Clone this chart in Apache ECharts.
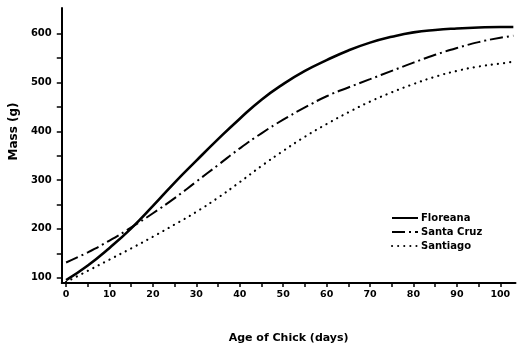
<!DOCTYPE html>
<html>
<head>
<meta charset="utf-8">
<script src="https://cdn.jsdelivr.net/npm/echarts@6/dist/echarts.min.js"></script>
<style>html,body{margin:0;padding:0;background:#fff}#c{width:520px;height:349px}</style>
</head>
<body>
<div id="c"></div>
<script>
const days = [0,5,10,15,20,25,30,35,40,45,50,55,60,65,70,75,80,85,90,95,100,103];
const floreana = [95,125,161,201,247,295,340,384,426,465,497,524,546,566,582,594,603,608,611,613,614,614];
const santaCruz = [131,152,176,203,232,263,297,331,365,396,424,449,472,490,507,524,541,557,571,583,592,596];
const santiago = [91,114,137,160,184,209,235,264,296,329,360,389,415,439,461,480,497,512,524,533,539,543];
const xTicks = [0,5,10,15,20,25,30,35,40,45,50,55,60,65,70,75,80,85,90,95,100];
const xLabels = [0,10,20,30,40,50,60,70,80,90,100];
const yTicks = [100,150,200,250,300,350,400,450,500,550,600];
const yLabels = [100,200,300,400,500,600];
const seriesNames = ['Floreana','Santa Cruz','Santiago'];

const pairs = (ys) => days.map((d,i)=>[d, ys[i]]);
const font = 'DejaVu Sans';
const chart = echarts.init(document.getElementById('c'), null, {renderer:'canvas'});
chart.setOption({
  animation:false,
  backgroundColor:'#fff',
  grid:{left:60, right:4.5, top:8, bottom:57, containLabel:false},
  legend:{
    orient:'vertical', left:386, top:208, itemWidth:26, itemHeight:10, itemGap:4,
    itemStyle:{opacity:0},
    textStyle:{fontFamily:font, fontWeight:'bold', fontSize:10, color:'#000', padding:[0,0,0,-2]},
    data:seriesNames
  },
  xAxis:{
    type:'value', min:-1, max:103.5,
    name:'Age of Chick (days)', nameLocation:'middle', nameGap:50,
    nameTextStyle:{fontFamily:font, fontWeight:'bold', fontSize:11, color:'#000'},
    axisLine:{show:true, onZero:false, lineStyle:{color:'#000', width:2}},
    axisTick:{show:true, length:4, lineStyle:{color:'#000', width:1.5}, customValues:xTicks},
    axisLabel:{fontFamily:font, fontWeight:'bold', fontSize:9.5, color:'#000', margin:7, customValues:xLabels},
    splitLine:{show:false}
  },
  yAxis:{
    type:'value', min:89, max:653,
    name:'Mass (g)', nameLocation:'middle', nameGap:40, nameRotate:90,
    nameTextStyle:{fontFamily:font, fontWeight:'bold', fontSize:12, color:'#000', padding:[0,0,0,28]},
    axisLine:{show:true, onZero:false, lineStyle:{color:'#000', width:2}},
    axisTick:{show:true, length:5, lineStyle:{color:'#000', width:1.5}, customValues:yTicks},
    axisLabel:{fontFamily:font, fontWeight:'bold', fontSize:10, color:'#000', margin:10, customValues:yLabels},
    splitLine:{show:false}
  },
  series:[
    {name:seriesNames[0], type:'line', smooth:true, symbol:'none', data:pairs(floreana),
     lineStyle:{color:'#000', width:2.6, type:'solid'}, itemStyle:{color:'#000'}},
    {name:seriesNames[1], type:'line', smooth:true, symbol:'none', data:pairs(santaCruz),
     lineStyle:{color:'#000', width:2, type:[13,4,2,4]}, itemStyle:{color:'#000'}},
    {name:seriesNames[2], type:'line', smooth:true, symbol:'none', data:pairs(santiago),
     lineStyle:{color:'#000', width:2.2, type:[0.1,6], cap:'round'}, itemStyle:{color:'#000'}}
  ]
});
</script>
</body>
</html>
